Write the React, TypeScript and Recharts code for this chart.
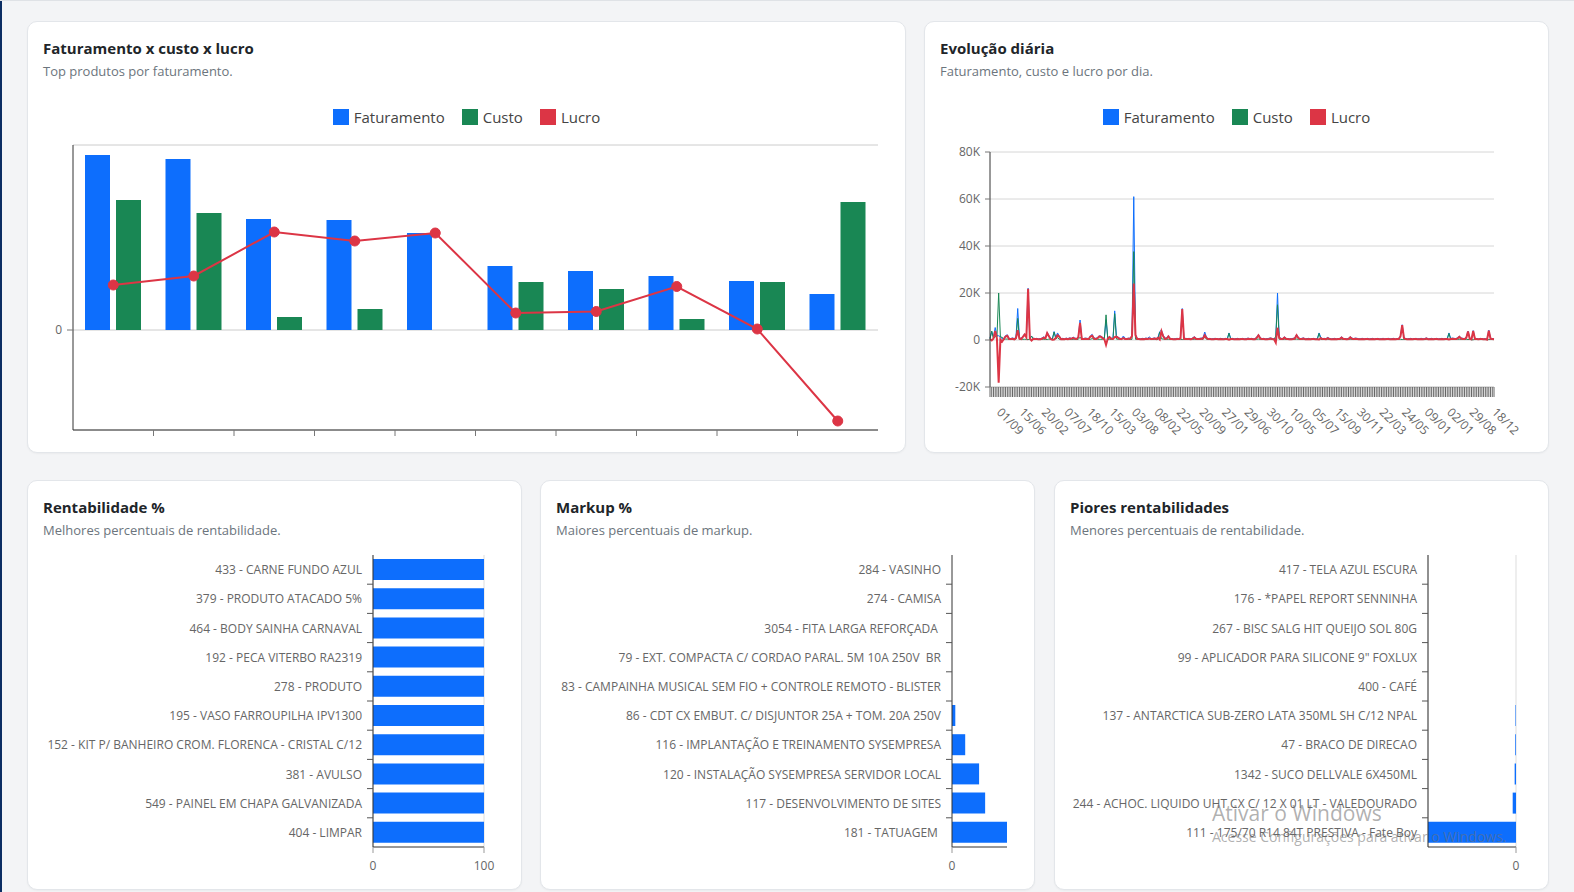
import React from "react";
import { ComposedChart, LineChart, BarChart, Bar, Line, XAxis, YAxis, CartesianGrid } from "recharts";

const BLUE = "#0d6efd";
const GREEN = "#198754";
const RED = "#dc3545";
const FONT = "'Open Sans', 'Noto Sans', sans-serif";

// ---------- Chart 1: Faturamento x custo x lucro (top products) ----------
const topRank = [1, 2, 3, 4, 5, 6, 7, 8, 9, 10];
const topFaturamento = [17500, 17100, 11100, 11000, 9700, 6400, 5900, 5400, 4900, 3600];
const topCusto = [13000, 11700, 1300, 2100, 0, 4800, 4100, 1100, 4800, 12800];
const topLucro = [4500, 5400, 9800, 8900, 9700, 1700, 1850, 4350, 100, -9100];

// ---------- Chart 2: Evolução diária ----------
const dailyTickLabels = ["01/09", "15/06", "20/02", "07/07", "18/10", "15/03", "03/08", "08/02", "22/05", "20/09", "27/01", "29/06", "30/10", "10/05", "05/07", "15/09", "30/11", "22/03", "24/05", "09/01", "02/01", "29/08", "18/12"];
const DAILY_LABEL_STEP = 13;
const dailyFaturamento = [
  800, 3600, 1200, 5300, 1800, 1800, 1400, 500, 700, 1900, 2200, 700, 600, 900, 600, 1200, 13400, 900, 700, 1600,
  2600, 1400, 22000, 900, 1500, 800, 600, 700, 500, 600, 800, 1300, 1000, 3200, 2000, 700, 400, 3600, 1200, 3000,
  1700, 600, 700, 500, 800, 600, 900, 700, 1200, 800, 600, 1500, 8500, 700, 600, 800, 700, 600, 1800, 2400,
  900, 700, 1000, 1800, 1700, 1100, 700, 8600, 900, 1500, 800, 600, 12400, 1800, 1200, 700, 600, 1700, 700, 600,
  800, 700, 2000, 61000, 2400, 700, 600, 500, 700, 600, 800, 700, 1300, 600, 700, 900, 600, 1200, 3600, 4200,
  2000, 800, 900, 1800, 700, 600, 500, 600, 700, 600, 900, 13400, 800, 700, 600, 700, 500, 900, 1400, 700,
  600, 700, 800, 900, 3400, 1100, 600, 700, 500, 600, 700, 600, 500, 700, 600, 500, 700, 600, 3000, 600,
  700, 500, 600, 700, 500, 600, 700, 500, 600, 800, 600, 700, 500, 600, 1200, 2400, 1000, 600, 700, 500,
  600, 700, 900, 600, 500, 600, 20000, 1200, 700, 600, 1300, 700, 600, 500, 600, 700, 900, 2400, 1100, 600,
  700, 900, 500, 600, 700, 500, 600, 700, 500, 600, 3000, 1100, 600, 700, 600, 1100, 700, 500, 600, 700,
  500, 600, 700, 1300, 700, 600, 500, 700, 1400, 800, 600, 800, 700, 500, 600, 700, 500, 600, 700, 500,
  600, 700, 500, 600, 700, 500, 600, 700, 500, 600, 700, 500, 600, 700, 500, 600, 700, 1800, 6500, 1100,
  600, 500, 600, 700, 500, 600, 700, 500, 600, 700, 500, 600, 900, 500, 600, 700, 500, 600, 700, 500,
  600, 700, 500, 600, 700, 3000, 600, 800, 700, 600, 1000, 1600, 900, 700, 600, 1200, 3800, 800, 100, 4000,
  700, 600, 500, 700, 600, 500, 600, 100, 4200, 800, 600, 500,
];
const dailyCusto = [
  400, 3800, 600, 1500, 1200, 20000, 1200, 1200, 300, 400, 400, 300, 200, 400, 300, 400, 9200, 300, 300, 300,
  300, 300, 200, 300, 1700, 300, 200, 300, 200, 300, 300, 300, 300, 200, 400, 300, 300, 3400, 400, 1000,
  300, 300, 300, 200, 300, 300, 300, 200, 300, 300, 200, 300, 1200, 300, 200, 300, 300, 200, 300, 600,
  300, 300, 300, 300, 300, 300, 300, 10700, 300, 300, 300, 200, 11200, 400, 300, 300, 200, 900, 300, 200,
  300, 200, 300, 37600, 300, 300, 200, 200, 300, 300, 300, 300, 700, 200, 300, 300, 200, 300, 3400, 500,
  400, 300, 300, 300, 300, 200, 200, 300, 300, 200, 300, 200, 300, 300, 200, 300, 200, 300, 300, 300,
  200, 300, 300, 300, 1400, 300, 200, 300, 200, 300, 300, 200, 200, 300, 300, 200, 300, 200, 2900, 200,
  300, 200, 300, 300, 200, 200, 300, 200, 300, 300, 200, 300, 200, 300, 300, 400, 300, 200, 300, 200,
  300, 300, 300, 200, 200, 1700, 15000, 300, 300, 200, 300, 300, 200, 200, 300, 300, 300, 400, 300, 200,
  300, 300, 200, 300, 300, 200, 200, 300, 200, 300, 2800, 300, 200, 300, 300, 300, 300, 200, 300, 300,
  200, 200, 300, 300, 300, 200, 200, 300, 300, 300, 200, 300, 300, 200, 300, 300, 200, 200, 300, 200,
  300, 300, 200, 200, 300, 200, 300, 300, 200, 200, 300, 200, 300, 300, 200, 200, 300, 300, 200, 300,
  200, 200, 300, 300, 200, 200, 300, 200, 300, 300, 200, 200, 300, 200, 300, 300, 200, 200, 300, 200,
  300, 300, 200, 200, 300, 2800, 200, 300, 300, 200, 300, 300, 300, 300, 200, 300, 200, 300, 100, 100,
  300, 200, 200, 300, 200, 200, 300, 100, 200, 300, 200, 200,
];
const dailyLucro = [
  400, -200, 600, 3800, 600, -18200, 200, -700, 400, 1500, 1800, 400, 400, 500, 300, 800, 4200, 600, 400, 1300,
  2300, 1100, 21800, 600, -200, 500, 400, 400, 300, 300, 500, 1000, 700, 3000, 1600, 400, 100, 200, 800, 2000,
  1400, 300, 400, 300, 500, 300, 600, 500, 900, 500, 400, 1200, 7300, 400, 400, 500, 400, 400, 1500, 1800,
  600, 400, 700, 1500, 1400, 800, 400, -2100, 600, 1200, 500, 400, 1200, 1400, 900, 400, 400, 800, 400, 400,
  500, 500, 1700, 24000, 2100, 400, 400, 300, 400, 300, 500, 400, 600, 400, 400, 600, 400, 900, 200, 3700,
  1600, 500, 600, 1500, 400, 400, 300, 300, 400, 400, 600, 13200, 500, 400, 400, 400, 300, 600, 1100, 400,
  400, 400, 500, 600, 2000, 800, 400, 400, 300, 300, 400, 400, 300, 400, 300, 300, 400, 400, 100, 400,
  400, 300, 300, 400, 300, 400, 400, 300, 300, 500, 400, 400, 300, 300, 900, 2000, 700, 400, 400, 300,
  300, 400, 600, 400, 300, -1100, 5200, 900, 400, 400, 1000, 400, 400, 300, 300, 400, 600, 2000, 800, 400,
  400, 600, 300, 300, 400, 300, 400, 400, 300, 300, 200, 800, 400, 400, 300, 800, 400, 300, 300, 400,
  300, 400, 400, 1000, 400, 400, 300, 400, 1100, 500, 400, 500, 400, 300, 300, 400, 300, 400, 400, 300,
  300, 400, 300, 400, 400, 300, 300, 400, 300, 400, 400, 300, 300, 400, 300, 400, 400, 1500, 6300, 800,
  400, 300, 300, 400, 300, 400, 400, 300, 300, 400, 300, 400, 600, 300, 300, 400, 300, 400, 400, 300,
  300, 400, 300, 400, 400, 200, 400, 500, 400, 400, 700, 1300, 600, 400, 400, 900, 3600, 500, 300, 3900,
  400, 400, 300, 400, 400, 300, 300, 200, 4000, 500, 400, 300,
];
const dailyYTicks = [-20000, 0, 20000, 40000, 60000, 80000];

// ---------- Bottom charts ----------
const rentLabels = [
  "433 - CARNE FUNDO AZUL",
  "379 - PRODUTO ATACADO 5%",
  "464 - BODY SAINHA CARNAVAL",
  "192 - PECA VITERBO RA2319",
  "278 - PRODUTO",
  "195 - VASO FARROUPILHA IPV1300",
  "152 - KIT P/ BANHEIRO CROM. FLORENCA - CRISTAL C/12",
  "381 - AVULSO",
  "549 - PAINEL EM CHAPA GALVANIZADA",
  "404 - LIMPAR",
];
const rentValues = [100, 100, 100, 100, 100, 100, 100, 100, 100, 100];

const markupLabels = [
  "284 - VASINHO",
  "274 - CAMISA",
  "3054 - FITA LARGA REFORÇADA ",
  "79 - EXT. COMPACTA C/ CORDAO PARAL. 5M 10A 250V  BR",
  "83 - CAMPAINHA MUSICAL SEM FIO + CONTROLE REMOTO - BLISTER",
  "86 - CDT CX EMBUT. C/ DISJUNTOR 25A + TOM. 20A 250V",
  "116 - IMPLANTAÇÃO E TREINAMENTO SYSEMPRESA",
  "120 - INSTALAÇÃO SYSEMPRESA SERVIDOR LOCAL",
  "117 - DESENVOLVIMENTO DE SITES",
  "181 - TATUAGEM ",
];
const markupValues = [0, 0, 0, 0, 0, 24, 96, 197, 241, 400];

const worstLabels = [
  "417 - TELA AZUL ESCURA",
  "176 - *PAPEL REPORT SENNINHA",
  "267 - BISC SALG HIT QUEIJO SOL 80G",
  "99 - APLICADOR PARA SILICONE 9\" FOXLUX",
  "400 - CAFÉ",
  "137 - ANTARCTICA SUB-ZERO LATA 350ML SH C/12 NPAL",
  "47 - BRACO DE DIRECAO",
  "1342 - SUCO DELLVALE 6X450ML",
  "244 - ACHOC. LIQUIDO UHT CX C/ 12 X 01 LT - VALEDOURADO",
  "111 - 175/70 R14 84T PRESTIVA - Fate Boy",
];
const worstValues = [0, 0, 0, 0, 0, -5, -7, -13, -32, -850];

const legendItems = [
  { name: "Faturamento", color: BLUE },
  { name: "Custo", color: GREEN },
  { name: "Lucro", color: RED },
];

// ---------- derived tables ----------
const topData = topRank.map((rank, i) => ({ name: String(rank), rank, fat: topFaturamento[i], custo: topCusto[i], lucro: topLucro[i] }));
const dailyData = dailyFaturamento.map((f, i) => ({ i, fat: f, custo: dailyCusto[i], lucro: dailyLucro[i] }));
const dailyTicks = dailyData.map((d) => d.i);
const dailyLabelAt = new Map<number, string>(dailyTickLabels.map((l, k) => [k * DAILY_LABEL_STEP, l]));
const rentData = rentLabels.map((name, i) => ({ name, pos: i + 1, value: rentValues[i] }));
const markupData = markupLabels.map((name, i) => ({ name, pos: i + 1, value: markupValues[i] }));
const worstData = worstLabels.map((name, i) => ({ name, pos: i + 1, value: worstValues[i] }));
// category boundaries (between rank n and n+1)
const bandBounds = [1.5, 2.5, 3.5, 4.5, 5.5, 6.5, 7.5, 8.5, 9.5];
const bandDomain = [0.5, 10.5];

const AXIS_DARK = "#333";
const TICK_GRAY = "#777";
const LABEL = { fill: "#666", fontSize: 12 };

function Card({ left, top, width, height, title, subtitle }: any) {
  return (
    <div
      style={{
        position: "absolute",
        left,
        top,
        width,
        height,
        boxSizing: "border-box",
        background: "#fff",
        border: "1px solid #e3e6ea",
        borderRadius: 10,
        boxShadow: "0 1px 2px rgba(0,0,0,0.04)",
      }}
    >
      <div style={{ position: "absolute", left: 15, top: 16, lineHeight: "20px", fontSize: 15, fontWeight: 700, color: "#212529", whiteSpace: "nowrap" }}>
        {title}
      </div>
      <div style={{ position: "absolute", left: 15, top: 39, lineHeight: "20px", fontSize: 13, color: "#6c757d", whiteSpace: "nowrap" }}>
        {subtitle}
      </div>
    </div>
  );
}

function LegendRow({ left, top, width }: any) {
  return (
    <div style={{ position: "absolute", left, top, width, height: 16, display: "flex", justifyContent: "center", alignItems: "center", fontSize: 15, color: "#444" }}>
      {legendItems.map((it, k) => (
        <div key={it.name} style={{ display: "flex", alignItems: "center", marginLeft: k === 0 ? 0 : 17 }}>
          <span style={{ display: "inline-block", width: 16, height: 16, background: it.color, marginRight: 5 }} />
          <span style={{ lineHeight: "16px" }}>{it.name}</span>
        </div>
      ))}
    </div>
  );
}

const renderDailyTick = (props: any) => {
  const { x, y, payload } = props;
  const label = dailyLabelAt.get(payload.value);
  if (!label) return <g />;
  const px = x + 6;
  const py = y + 14;
  return (
    <text x={px} y={py} transform={`rotate(45 ${px} ${py})`} textAnchor="start" fill="#666" fontSize={12}>
      {label}
    </text>
  );
};

const renderCategoryTick = (props: any) => {
  const { x, y, payload } = props;
  return (
    <text x={x} y={y} textAnchor="end" dominantBaseline="central" fill="#666" fontSize={12} style={{ whiteSpace: "pre" }}>
      {payload.value}
    </text>
  );
};

const kFormat = (v: number) => (v === 0 ? "0" : `${v / 1000}K`);
const blank = () => "";

function HBar({ data, left, catWidth, marginRight, domain, ticks, grid }: any) {
  return (
    <div style={{ position: "absolute", left, top: 540 }}>
      <BarChart
        layout="vertical"
        width={495}
        height={352}
        data={data}
        margin={{ top: 14, right: marginRight, bottom: 16, left: 0 }}
        barSize={21}
      >
        {grid && <CartesianGrid horizontal={false} stroke="#dddddd" />}
        <XAxis
          type="number"
          domain={domain}
          ticks={ticks}
          height={30}
          tickSize={6}
          tickMargin={8}
          tick={LABEL}
          axisLine={{ stroke: AXIS_DARK }}
          tickLine={{ stroke: "#999" }}
          interval={0}
        />
        <YAxis
          yAxisId="cat"
          type="category"
          dataKey="name"
          width={catWidth - 1}
          tickLine={false}
          axisLine={false}
          tickSize={6}
          tickMargin={4}
          tick={renderCategoryTick}
          interval={0}
        />
        <YAxis
          dataKey="pos"
          type="number"
          domain={bandDomain}
          ticks={bandBounds}
          allowDataOverflow
          width={1}
          tickSize={6}
          tickFormatter={blank}
          axisLine={{ stroke: AXIS_DARK }}
          tickLine={{ stroke: "#555" }}
          interval={0}
        />
        <Bar dataKey="value" yAxisId="cat" fill={BLUE} isAnimationActive={false} />
      </BarChart>
    </div>
  );
}

export default function App() {
  return (
    <div
      style={{
        position: "absolute",
        left: 0,
        top: 0,
        width: 1574,
        height: 892,
        overflow: "hidden",
        background: "#f3f4f6",
        borderTop: "1px solid #dfe2e6",
        boxSizing: "border-box",
        fontFamily: FONT,
      }}
    >
      <div style={{ position: "absolute", left: 0, top: 0, width: 2, height: 892, background: "#0b2d63" }} />

      <Card left={27} top={20} width={879} height={432} title="Faturamento x custo x lucro" subtitle="Top produtos por faturamento." />
      <Card left={924} top={20} width={625} height={432} title="Evolução diária" subtitle="Faturamento, custo e lucro por dia." />
      <Card left={27} top={479} width={495} height={410} title="Rentabilidade %" subtitle="Melhores percentuais de rentabilidade." />
      <Card left={540} top={479} width={495} height={410} title="Markup %" subtitle="Maiores percentuais de markup." />
      <Card left={1054} top={479} width={495} height={410} title="Piores rentabilidades" subtitle="Menores percentuais de rentabilidade." />

      <LegendRow left={27} top={108} width={879} />
      <LegendRow left={924} top={108} width={625} />

      {/* Chart 1 */}
      <div style={{ position: "absolute", left: 27, top: 100 }}>
        <ComposedChart
          width={879}
          height={352}
          data={topData}
          margin={{ top: 44, right: 28, bottom: 13, left: 16 }}
          barSize={25}
          barGap={6}
        >
          <CartesianGrid vertical={false} stroke="#cccccc" />
          <XAxis dataKey="name" hide height={0} />
          <XAxis
            xAxisId="bounds"
            dataKey="rank"
            type="number"
            domain={bandDomain}
            ticks={bandBounds}
            allowDataOverflow
            height={10}
            tickSize={6}
            tickFormatter={blank}
            axisLine={{ stroke: AXIS_DARK }}
            tickLine={{ stroke: TICK_GRAY }}
            interval={0}
          />
          <YAxis
            type="number"
            domain={[-10000, 18500]}
            ticks={[0]}
            allowDataOverflow
            width={30}
            tickSize={6}
            tickMargin={5}
            tick={LABEL}
            axisLine={{ stroke: AXIS_DARK }}
            tickLine={{ stroke: TICK_GRAY }}
          />
          <Bar dataKey="fat" fill={BLUE} isAnimationActive={false} />
          <Bar dataKey="custo" fill={GREEN} isAnimationActive={false} />
          <Line
            type="linear"
            dataKey="lucro"
            stroke={RED}
            strokeWidth={2}
            dot={{ r: 5, fill: RED, stroke: RED, strokeWidth: 1 }}
            activeDot={false}
            isAnimationActive={false}
          />
        </ComposedChart>
      </div>

      {/* Chart 2 */}
      <div style={{ position: "absolute", left: 924, top: 100 }}>
        <LineChart width={625} height={352} data={dailyData} margin={{ top: 51, right: 55, bottom: 11, left: 16 }}>
          <CartesianGrid vertical={false} stroke="#d6d6d6" />
          <XAxis
            dataKey="i"
            type="number"
            domain={[0, dailyData.length - 1]}
            ticks={dailyTicks}
            interval={0}
            height={55}
            tickSize={10}
            tick={renderDailyTick}
            axisLine={{ stroke: "#cccccc" }}
            tickLine={{ stroke: "#666" }}
          />
          <YAxis
            domain={[-20000, 80000]}
            ticks={dailyYTicks}
            width={50}
            tickSize={5}
            tickMargin={5}
            tickFormatter={kFormat}
            tick={LABEL}
            axisLine={{ stroke: AXIS_DARK }}
            tickLine={{ stroke: TICK_GRAY }}
            interval={0}
          />
          <Line type="linear" dataKey="fat" stroke={BLUE} strokeWidth={1} dot={false} activeDot={false} isAnimationActive={false} />
          <Line type="linear" dataKey="custo" stroke={GREEN} strokeWidth={1} dot={false} activeDot={false} isAnimationActive={false} />
          <Line type="linear" dataKey="lucro" stroke={RED} strokeWidth={2} dot={false} activeDot={false} isAnimationActive={false} />
        </LineChart>
      </div>

      <HBar data={rentData} left={27} catWidth={346} marginRight={38} domain={[0, 100]} ticks={[0, 100]} grid />
      <HBar data={markupData} left={540} catWidth={412} marginRight={28} domain={[0, "dataMax"]} ticks={[0]} grid={false} />
      <HBar data={worstData} left={1054} catWidth={374} marginRight={33} domain={["dataMin", 0]} ticks={[0]} grid />

      <div style={{ position: "absolute", left: 1212, top: 800, fontSize: 21, lineHeight: "24px", color: "rgba(110,110,110,0.55)", whiteSpace: "nowrap", pointerEvents: "none" }}>
        Ativar o Windows
      </div>
      <div style={{ position: "absolute", left: 1212, top: 826, fontSize: 14, lineHeight: "20px", color: "rgba(110,110,110,0.55)", whiteSpace: "nowrap", pointerEvents: "none" }}>
        Acesse Configurações para ativar o Windows.
      </div>
    </div>
  );
}
